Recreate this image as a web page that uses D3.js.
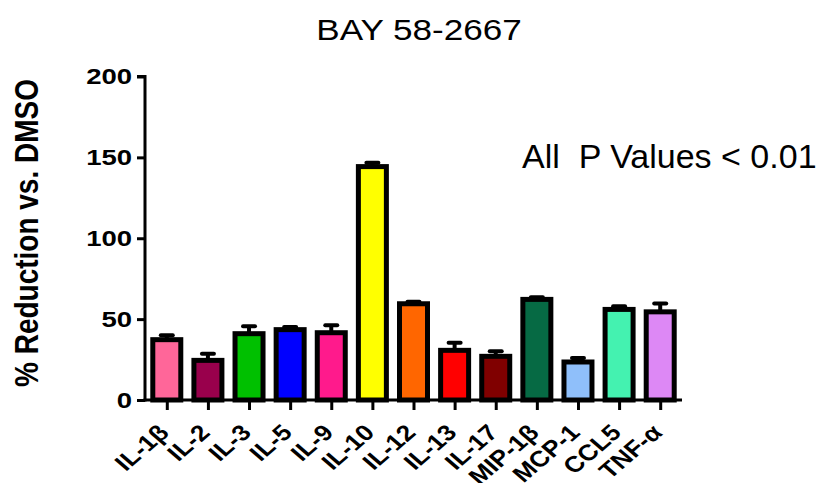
<!DOCTYPE html>
<html><head><meta charset="utf-8">
<script src="https://cdn.jsdelivr.net/npm/d3@7"></script>
<style>body{margin:0;background:#fff}svg{display:block}text{font-family:Arial,"Liberation Sans",sans-serif}</style>
</head><body>
<script>
const categories = ["IL-1β","IL-2","IL-3","IL-5","IL-9","IL-10","IL-12","IL-13","IL-17","MIP-1β","MCP-1","CCL5","TNF-α"];
const values = [37.3, 24.5, 41.0, 43.5, 41.6, 144.3, 59.5, 30.7, 27.0, 62.2, 23.5, 56.0, 54.5];
const errors = [2.7, 4.1, 4.6, 1.6, 4.6, 2.4, 1.2, 4.7, 3.1, 1.4, 2.5, 2.0, 5.2];
const colors = ["#FF6699","#99004C","#00C000","#0000FF","#FF1A8C","#FFFF00","#FF6600","#FF0000","#800000","#066A44","#8FBFFA","#44F2B0","#DD88F5"];
const yTicks = [0, 50, 100, 150, 200];
const title = "BAY 58-2667";
const yLabel = "% Reduction vs. DMSO";
const note = "All  P Values < 0.01";

const W = 817, H = 483;
const svg = d3.select("body").append("svg").attr("width", W).attr("height", H);
const x = d3.scalePoint().domain(categories).range([145, 682]).padding(0.53);
const y = d3.scaleLinear().domain([0, 200]).range([400, 76.5]);
const barW = 28;

// bars
svg.selectAll("rect.bar").data(categories).enter().append("rect")
  .attr("x", d => x(d) - barW/2)
  .attr("y", (d,i) => y(values[i]))
  .attr("width", barW)
  .attr("height", (d,i) => y(0) - y(values[i]))
  .attr("fill", (d,i) => colors[i])
  .attr("stroke", "#000").attr("stroke-width", 5);

// error bars
const eg = svg.append("g");
categories.forEach((d,i) => {
  eg.append("line").attr("x1", x(d)).attr("x2", x(d))
    .attr("y1", y(values[i])).attr("y2", y(values[i]+errors[i]))
    .attr("stroke","#000").attr("stroke-width",4);
  eg.append("line").attr("x1", x(d)-6).attr("x2", x(d)+6)
    .attr("y1", y(values[i]+errors[i])).attr("y2", y(values[i]+errors[i]))
    .attr("stroke","#000").attr("stroke-width",4).attr("stroke-linecap","round");
});

// y axis
const ya = svg.append("g").attr("transform","translate(145,0)")
  .call(d3.axisLeft(y).tickValues(yTicks).tickSize(8).tickPadding(4));
ya.select(".domain").attr("stroke","#000").attr("stroke-width",3).attr("d","M-8,"+y(200)+"H0V"+(y(0)+1.5));
ya.selectAll(".tick line").attr("stroke","#000").attr("stroke-width",3);
ya.selectAll(".tick text").attr("fill","#000").attr("font-size","22px").attr("font-weight","bold")
  .attr("font-family","Arial, 'Liberation Sans', sans-serif")
  .attr("x", 0).attr("transform","translate(-13,0) scale(1.25,1)");

// x axis
const xa = svg.append("g").attr("transform","translate(0,400)")
  .call(d3.axisBottom(x).tickSize(10).tickSizeOuter(0));
xa.select(".domain").attr("stroke","#000").attr("stroke-width",3).attr("d","M143.5,0H682");
xa.selectAll(".tick line").attr("stroke","#000").attr("stroke-width",3);
xa.selectAll(".tick text").attr("fill","#000").attr("font-size","22.5px").attr("font-weight","bold")
  .attr("font-family","Arial, 'Liberation Sans', sans-serif")
  .attr("text-anchor","end").attr("dy",null).attr("y",null)
  .attr("transform","translate(3,34) scale(1.17,1) rotate(-45)");

// title
svg.append("text").attr("x", 0).attr("y", 0).attr("text-anchor","middle")
  .attr("transform","translate(419,40) scale(1.17,1)")
  .attr("font-size","30px").text(title);
// y label
svg.append("text").attr("transform","translate(38,233) scale(1.2,1) rotate(-90)").attr("text-anchor","middle")
  .attr("font-size","28px").attr("font-weight","bold").text(yLabel);
// note
svg.append("text").attr("x", 522).attr("y", 168).attr("font-size","34px").attr("xml:space","preserve")
  .style("white-space","pre").text(note);
</script>
</body></html>
